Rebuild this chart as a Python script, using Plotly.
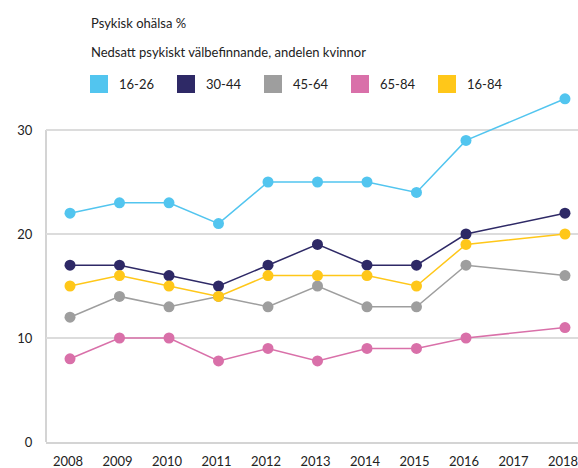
import plotly.graph_objects as go

years = [2008, 2009, 2010, 2011, 2012, 2013, 2014, 2015, 2016, 2018]
tick_years = [2008, 2009, 2010, 2011, 2012, 2013, 2014, 2015, 2016, 2017, 2018]
y_ticks = [0, 10, 20, 30]

s_16_26 = [22, 23, 23, 21, 25, 25, 25, 24, 29, 33]
s_30_44 = [17, 17, 16, 15, 17, 19, 17, 17, 20, 22]
s_45_64 = [12, 14, 13, 14, 13, 15, 13, 13, 17, 16]
s_65_84 = [8, 10, 10, 7.8, 9, 7.8, 9, 9, 10, 11]
s_16_84 = [15, 16, 15, 14, 16, 16, 16, 15, 19, 20]

series_names = ["16-26", "30-44", "45-64", "65-84", "16-84"]
series_vals = [s_16_26, s_30_44, s_45_64, s_65_84, s_16_84]
colors = ["#52c5ef", "#2e2966", "#9e9e9e", "#d970a9", "#ffc719"]

FONT = "Lato"
TXT = "#222222"

fig = go.Figure()
for name, vals, col in zip(series_names, series_vals, colors):
    fig.add_trace(go.Scatter(
        x=years, y=vals, mode="lines+markers", name=name,
        line=dict(color=col, width=1.5),
        marker=dict(color=col, size=11),
        showlegend=False, hoverinfo="skip"))
# legend entries (square swatches)
for name, col in zip(series_names, colors):
    fig.add_trace(go.Scatter(
        x=[None], y=[None], mode="markers", name=name,
        marker=dict(color=col, size=16, symbol="square",
                    line=dict(color=col, width=2)),
        showlegend=True))

# left axis line only up to the top tick
fig.add_shape(type="line", xref="paper", yref="y", x0=0, x1=0,
              y0=y_ticks[0], y1=y_ticks[-1],
              line=dict(color="#d4d4d4", width=2), layer="below")

fig.update_layout(
    width=578, height=468,
    margin=dict(l=46, r=0, t=78, b=26),
    paper_bgcolor="white", plot_bgcolor="white",
    font=dict(family=FONT, size=13, color=TXT),
    showlegend=True,
    legend=dict(orientation="h", x=(79 - 46) / 532, y=(442 - 84) / 364,
                xanchor="left", yanchor="middle",
                entrywidth=42, entrywidthmode="pixels",
                font=dict(family=FONT, size=13, color=TXT),
                itemsizing="trace", borderwidth=0,
                bgcolor="rgba(0,0,0,0)"),
    xaxis=dict(range=[2007.515, 2018.263], tickvals=tick_years,
               ticktext=[str(y) for y in tick_years],
               showgrid=False, zeroline=False,
               showline=True, linecolor="#d4d4d4", linewidth=2,
               ticks="outside", ticklen=6, tickcolor="rgba(0,0,0,0)",
               tickfont=dict(family=FONT, size=13, color=TXT),
               ticklabelshift=-2,
               ticklabeloverflow="allow",
               automargin=False),
    yaxis=dict(range=[0, 35], tickvals=y_ticks,
               showgrid=True, gridcolor="#dcdcdc", gridwidth=1.5,
               zeroline=False, showline=False,
               ticks="outside", ticklen=10, tickcolor="rgba(0,0,0,0)",
               tickfont=dict(family=FONT, size=13, color=TXT),
               ticklabeloverflow="allow",
               automargin=False),
    annotations=[
        dict(text="Psykisk ohälsa %", xref="paper", yref="paper",
             x=(89 - 46) / 532, y=(442 - 22.5) / 364, xanchor="left", yanchor="middle",
             showarrow=False, font=dict(family=FONT, size=13, color=TXT)),
        dict(text="Nedsatt psykiskt välbefinnande, andelen kvinnor", xref="paper", yref="paper",
             x=(89 - 46) / 532, y=(442 - 52) / 364, xanchor="left", yanchor="middle",
             showarrow=False, font=dict(family=FONT, size=13, color=TXT)),
    ],
)

fig.write_html("out.html",
               config={"displayModeBar": False, "staticPlot": True},
               post_script="document.body.style.margin='0';document.body.style.overflow='hidden';")
